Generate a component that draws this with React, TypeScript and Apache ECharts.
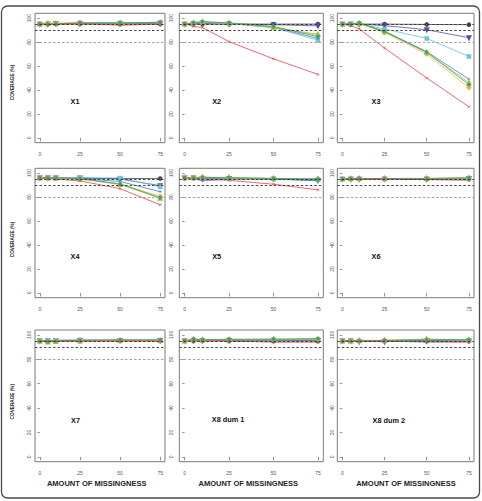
import React, { useEffect, useRef } from "react";
import * as echarts from "echarts";

// ---------- data ----------
const missingness = [0, 5, 10, 25, 50, 75];
const xTicks = [0, 25, 50, 75];
const yTicks = [0, 20, 40, 60, 80, 100];
const referenceLines = [95, 90, 80];
const panelTitles = ["X1", "X2", "X3", "X4", "X5", "X6", "X7", "X8 dum 1", "X8 dum 2"];
const methodNames = ["Method 1", "Method 2", "Method 3", "Method 4", "Method 5", "Method 6", "Method 7", "Method 8"];
const yAxisTitle = "COVERAGE (%)";
const xAxisTitle = "AMOUNT OF MISSINGNESS";

// rows follow methodNames order: red, black, navy, cyan, blue, yellow, green, teal
const coverageX1 = [
  [95, 95, 95, 95.5, 94, 95],
  [95, 95, 95, 95, 95, 95],
  [95, 95, 95.5, 95.5, 95.5, 95.5],
  [95, 95, 95.5, 96, 96, 96.5],
  [95, 95.5, 95.5, 95.5, 95.5, 96],
  [95, 95.5, 95.5, 96, 96, 96],
  [95, 95.5, 95.5, 96, 96, 96.5],
  [95, 95, 95, 96, 96, 96.5],
];
const coverageX2 = [
  [95.3, 93, 92.2, 80.3, 66, 53],
  [95, 95, 95, 95, 95, 95],
  [95, 95.5, 95.5, 95, 94.5, 93.5],
  [95, 96, 96.5, 95.5, 92, 81.5],
  [95, 96, 96.5, 95.5, 92.5, 83],
  [95, 96, 96.5, 95.5, 92.5, 85.5],
  [95, 96, 97, 96, 92, 86.5],
  [95, 96, 97, 96, 93, 84.5],
];
const coverageX3 = [
  [95, 93.6, 91, 75, 50, 26],
  [95, 95, 95, 95, 94.7, 94.5],
  [95, 95, 95, 93.7, 90.3, 83.6],
  [95, 95, 95, 91, 83, 68],
  [95, 95, 95.5, 89, 72, 49],
  [95, 94.5, 95.5, 88, 70, 42],
  [95, 95, 95.5, 88.5, 71.5, 46],
  [95, 95, 96, 89, 71.5, 44.5],
];
const coverageX4 = [
  [96, 95.5, 95, 93.5, 87, 73.5],
  [96, 96, 95.5, 95.5, 95.5, 95.5],
  [96, 96, 96, 96, 95, 89.5],
  [96, 96, 96, 96, 96, 88.5],
  [96, 96, 95.5, 95.5, 93, 84.5],
  [96, 95.5, 95.5, 95, 91, 80.5],
  [96, 96, 96, 95, 90.5, 79],
  [96, 96, 96, 95.5, 91, 79.5],
];
const coverageX5 = [
  [96.4, 95.5, 95, 94, 90.7, 86],
  [96, 96, 96, 95.5, 95.5, 94.5],
  [96, 96, 95.5, 95.5, 95, 94],
  [96, 96, 96, 95.5, 95, 95],
  [96, 95.5, 93.5, 95, 95, 93.5],
  [96, 96, 96.5, 96, 95.5, 95],
  [96, 96, 96.5, 96.5, 95.5, 95],
  [96, 96, 96.5, 96, 95.5, 95],
];
const coverageX6 = [
  [95, 95, 95, 95, 94.5, 94],
  [95, 95, 95, 95, 95, 95],
  [95, 95, 95, 95, 95, 95.5],
  [95, 95, 95, 95, 95.5, 95.5],
  [95, 95, 95, 95, 95, 95.5],
  [95, 95, 95, 95, 95.5, 96],
  [95, 95.5, 95.5, 95.5, 95.5, 96],
  [95, 95.5, 95.5, 95.5, 95.5, 96],
];
const coverageX7 = [
  [94.5, 94.5, 95, 95, 95, 95],
  [95, 95, 95, 95, 95, 95],
  [95, 95, 95.5, 95.5, 95.5, 95.5],
  [95, 95, 95.5, 96, 95.5, 95.5],
  [95, 95, 95.5, 95.5, 95.5, 95.5],
  [95, 94.5, 95, 95.5, 95.5, 95.5],
  [95, 94, 94.5, 95, 95.5, 95.5],
  [95, 94.5, 95, 95.5, 96, 96],
];
const coverageX8dum1 = [
  [95.5, 95.5, 95, 95, 94, 94],
  [95, 95, 95, 95, 95, 95],
  [95, 95.5, 95.5, 95.5, 95.5, 95.5],
  [95, 96, 95.5, 96, 96, 96],
  [95, 96, 95.5, 95.5, 96, 96],
  [95, 96, 95.5, 96, 96, 96.5],
  [95, 96.5, 96, 96, 96.5, 96.5],
  [95, 96.5, 96, 96.5, 96.5, 97],
];
const coverageX8dum2 = [
  [95.5, 95, 95, 95, 94, 94],
  [95, 95, 95, 95, 95, 95],
  [95, 95, 94.5, 94.5, 95, 95],
  [95, 95, 95, 95, 95.5, 95.5],
  [95, 95, 95, 95, 95.5, 95.5],
  [95, 95, 95, 95.5, 96.5, 95.5],
  [95, 95, 95.5, 95.5, 96.5, 96],
  [95, 95, 95, 95.5, 96, 96],
];
const panelCoverage = [
  coverageX1, coverageX2, coverageX3,
  coverageX4, coverageX5, coverageX6,
  coverageX7, coverageX8dum1, coverageX8dum2,
];

// ---------- styling / layout ----------
const FONT = '"Liberation Sans", Arial, Helvetica, sans-serif';
const methodStyles = [
  { color: "#e8414e", symbol: "path://M0,0L8,8M8,0L0,8", size: 2.6 },
  { color: "#454545", symbol: "emptyCircle", size: 2.6 },
  { color: "#5052a6", symbol: "emptyTriangle", size: 2.8, rotate: 180 },
  { color: "#66c4d8", symbol: "emptyRect", size: 2.5 },
  { color: "#4a78c2", symbol: "path://M4,0L4,8M0,4L8,4", size: 3 },
  { color: "#f2b632", symbol: "emptyDiamond", size: 3 },
  { color: "#8dc63f", symbol: "emptyTriangle", size: 2.8 },
  { color: "#3f9c78", symbol: "circle", size: 3.6 },
];
const drawOrder = [1, 2, 3, 4, 5, 6, 7, 0];

const colBoxes = [
  { left: 35, width: 130, yLabelMargin: 3.5 },
  { left: 179.3, width: 144, yLabelMargin: 6 },
  { left: 337.3, width: 136.7, yLabelMargin: 2.5 },
];
const rowBoxes = [
  { top: 13.3, height: 129.4 },
  { top: 168.3, height: 129.4 },
  { top: 330, height: 131.7 },
];
const titlePos = [
  [75, 101.7], [216.7, 101.7], [376, 101.7],
  [75, 256.7], [216.7, 256.7], [376, 256.7],
  [75.5, 420], [228, 419.5], [388.8, 420],
];
const yTitlePos = [[12.7, 82.5], [12.7, 239.5], [12.7, 401.7]];
const xTitlePos = [[96.7, 483.3], [248.3, 483.3], [406, 483.3]];

export default function App() {
  const ref = useRef<HTMLDivElement>(null);
  useEffect(() => {
    if (!ref.current) return;
    const chart = echarts.init(ref.current, undefined, { renderer: "svg" });
    const grids: any[] = [];
    const xAxes: any[] = [];
    const yAxes: any[] = [];
    const series: any[] = [];
    panelCoverage.forEach((cov, p) => {
      const r = Math.floor(p / 3);
      const c = p % 3;
      grids.push({
        left: colBoxes[c].left,
        top: rowBoxes[r].top,
        width: colBoxes[c].width,
        height: rowBoxes[r].height,
        show: true,
        borderColor: "#7a7a7a",
        borderWidth: 1,
        backgroundColor: "transparent",
      });
      xAxes.push({
        type: "value",
        gridIndex: p,
        min: -3,
        max: 78,
        axisLine: { show: false },
        splitLine: { show: false },
        axisTick: { show: true, customValues: xTicks, length: 3.5, lineStyle: { color: "#7a7a7a", width: 0.8 } },
        axisLabel: { customValues: xTicks, fontSize: 5, color: "#555", margin: 9, fontFamily: FONT },
      });
      yAxes.push({
        type: "value",
        gridIndex: p,
        min: -4,
        max: 104,
        axisLine: { show: false },
        splitLine: { show: false },
        axisTick: { show: true, customValues: yTicks, length: 2.5, lineStyle: { color: "#7a7a7a", width: 0.8 } },
        axisLabel: {
          customValues: yTicks,
          fontSize: 5,
          color: "#555",
          margin: colBoxes[c].yLabelMargin,
          rotate: 90,
          fontFamily: FONT,
        },
      });
      series.push({
        type: "line",
        xAxisIndex: p,
        yAxisIndex: p,
        data: [],
        silent: true,
        markLine: {
          silent: true,
          symbol: "none",
          label: { show: false },
          data: referenceLines.map((v, i) => ({
            yAxis: v,
            lineStyle: {
              color: i === 2 ? "#9a9a9a" : "#333",
              type: [2.5, 2],
              width: 0.9,
            },
          })),
        },
      });
      drawOrder.forEach((m) => {
        const st = methodStyles[m];
        series.push({
          type: "line",
          name: methodNames[m],
          xAxisIndex: p,
          yAxisIndex: p,
          data: missingness.map((x, i) => [x, cov[m][i]]),
          symbol: st.symbol,
          symbolSize: st.size,
          symbolRotate: st.rotate || 0,
          showSymbol: true,
          lineStyle: { color: st.color, width: 0.8 },
          itemStyle: {
            color: st.color,
            borderColor: st.color,
            borderWidth: st.symbol === "circle" ? 0 : 0.7,
          },
        });
      });
    });

    const graphics: any[] = [
      {
        type: "rect",
        shape: { x: 1.5, y: 6, width: 478, height: 492, r: 6 },
        style: { fill: "none", stroke: "#4a4a4a", lineWidth: 1.3 },
        silent: true,
      },
    ];
    panelTitles.forEach((t, p) => {
      graphics.push({
        type: "text",
        x: titlePos[p][0],
        y: titlePos[p][1],
        style: {
          text: t,
          x: 0,
          y: 0,
          fill: "#111",
          font: `bold 7.3px ${FONT}`,
          textAlign: "center",
          textVerticalAlign: "middle",
          align: "center",
          verticalAlign: "middle",
        },
        silent: true,
      });
    });
    yTitlePos.forEach(([x, y]) => {
      graphics.push({
        type: "text",
        x,
        y,
        rotation: Math.PI / 2,
        style: {
          text: yAxisTitle,
          x: 0,
          y: 0,
          fill: "#222",
          font: `bold 4.7px ${FONT}`,
          textAlign: "center",
          textVerticalAlign: "middle",
          align: "center",
          verticalAlign: "middle",
        },
        silent: true,
      });
    });
    xTitlePos.forEach(([x, y]) => {
      graphics.push({
        type: "text",
        x,
        y,
        style: {
          text: xAxisTitle,
          x: 0,
          y: 0,
          fill: "#222",
          font: `bold 7.5px ${FONT}`,
          textAlign: "center",
          textVerticalAlign: "middle",
          align: "center",
          verticalAlign: "middle",
        },
        silent: true,
      });
    });

    chart.setOption({
      animation: false,
      backgroundColor: "#fff",
      grid: grids,
      xAxis: xAxes,
      yAxis: yAxes,
      series,
      graphic: graphics,
    });
    return () => chart.dispose();
  }, []);
  return (
    <div
      ref={ref}
      style={{ position: "fixed", left: 0, top: 0, width: 482, height: 501 }}
    />
  );
}
